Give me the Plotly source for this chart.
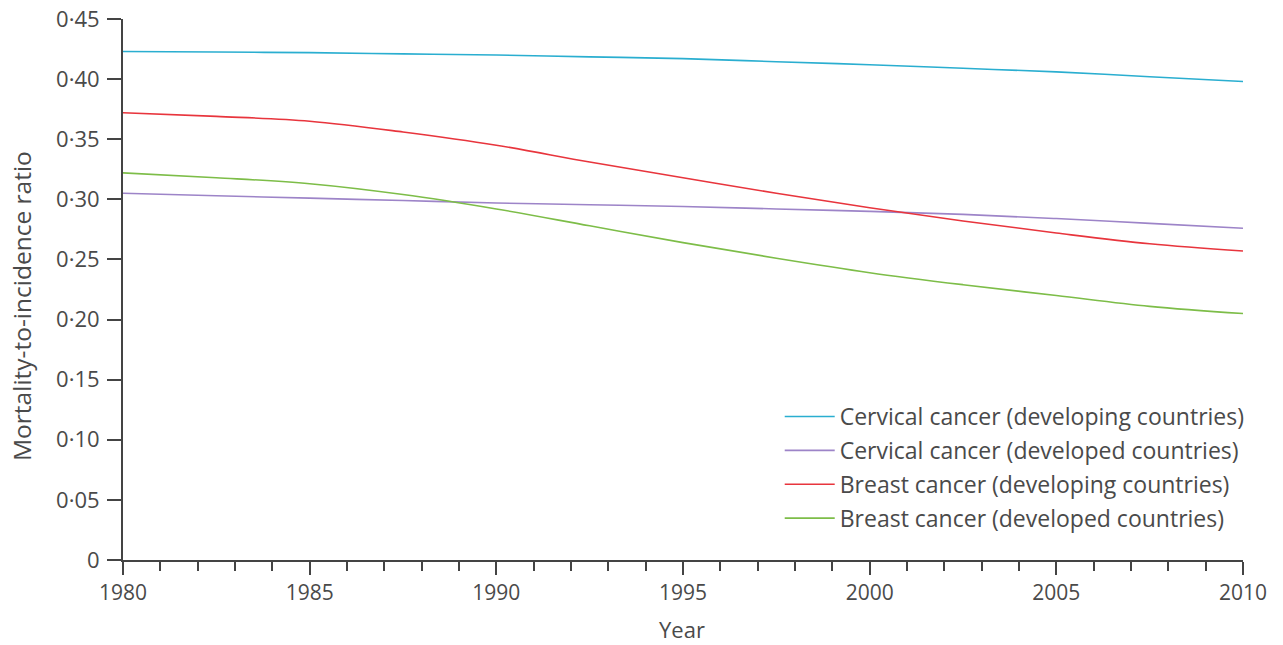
import plotly.graph_objects as go

years = [1980, 1982.5, 1985, 1987.5, 1990, 1992.5, 1995, 1997.5, 2000, 2002.5, 2005, 2007.5, 2010]

cervical_developing = [0.423, 0.4225, 0.422, 0.421, 0.420, 0.4185, 0.417, 0.4145, 0.412, 0.409, 0.406, 0.402, 0.398]
cervical_developed = [0.305, 0.303, 0.301, 0.299, 0.297, 0.2955, 0.294, 0.292, 0.290, 0.2875, 0.284, 0.280, 0.276]
breast_developing = [0.372, 0.369, 0.365, 0.356, 0.345, 0.331, 0.318, 0.305, 0.293, 0.282, 0.272, 0.263, 0.257]
breast_developed = [0.322, 0.318, 0.313, 0.304, 0.292, 0.278, 0.264, 0.251, 0.239, 0.229, 0.220, 0.211, 0.205]

series_names = [
    "Cervical cancer (developing countries)",
    "Cervical cancer (developed countries)",
    "Breast cancer (developing countries)",
    "Breast cancer (developed countries)",
]
series_values = [cervical_developing, cervical_developed, breast_developing, breast_developed]
series_colors = ["#2aaed0", "#9d84c8", "#e8353d", "#7dbd48"]

y_tick_vals = [0, 0.05, 0.10, 0.15, 0.20, 0.25, 0.30, 0.35, 0.40, 0.45]
y_tick_text = ["0", "0·05", "0·10", "0·15", "0·20", "0·25", "0·30", "0·35", "0·40", "0·45"]

x_title = "Year"
y_title = "Mortality-to-incidence ratio"

FONT = "Open Sans"
TEXT = "#4a4a4a"
AXIS = "#444444"

fig = go.Figure()
for i, (name, vals, col) in enumerate(zip(series_names, series_values, series_colors)):
    fig.add_trace(go.Scatter(
        x=years, y=vals, name=name, mode="lines",
        line=dict(color=col, width=1.6, shape="spline", smoothing=1.0),
        legendgroup=f"g{i}",
    ))

fig.update_layout(
    width=1283, height=645,
    margin=dict(l=123, r=40, t=19, b=85),
    paper_bgcolor="white", plot_bgcolor="white",
    font=dict(family=FONT, size=22, color=TEXT),
    showlegend=True,
    legend=dict(
        x=1.006, xanchor="right", y=0.037, yanchor="bottom",
        font=dict(family=FONT, size=23, color=TEXT),
        bgcolor="rgba(0,0,0,0)", tracegroupgap=1, traceorder="grouped",
        itemwidth=50,
    ),
    xaxis=dict(
        range=[1980, 2010], tickmode="linear", tick0=1980, dtick=5,
        ticks="outside", ticklen=13, tickwidth=2, tickcolor=AXIS,
        showline=True, linecolor=AXIS, linewidth=2,
        showgrid=False, zeroline=False, automargin=False,
        ticklabeloverflow="allow",
        tickfont=dict(family=FONT, size=21, color=TEXT),
        minor=dict(dtick=1, tick0=1980, ticks="outside", ticklen=9, tickwidth=2, tickcolor=AXIS, showgrid=False),
    ),
    yaxis=dict(
        range=[0, 0.45], tickmode="array", tickvals=y_tick_vals, ticktext=y_tick_text,
        ticks="outside", ticklen=14, tickwidth=2, tickcolor=AXIS,
        showline=True, linecolor=AXIS, linewidth=2,
        showgrid=False, zeroline=False, automargin=False,
        ticklabelstandoff=3, ticklabeloverflow="allow",
        tickfont=dict(family=FONT, size=22, color=TEXT),
    ),
    annotations=[
        dict(text=x_title, xref="paper", yref="paper", x=0.499, y=-0.128,
             xanchor="center", yanchor="middle", showarrow=False,
             font=dict(family=FONT, size=22, color=TEXT)),
        dict(text=y_title, xref="paper", yref="paper", x=-0.09, y=0.47,
             xanchor="center", yanchor="middle", showarrow=False, textangle=-90,
             font=dict(family=FONT, size=24.5, color=TEXT)),
    ],
)

fig.write_html(
    "out.html",
    config={"displayModeBar": False},
    post_script="document.body.style.margin='0';document.body.style.overflow='hidden';",
)
